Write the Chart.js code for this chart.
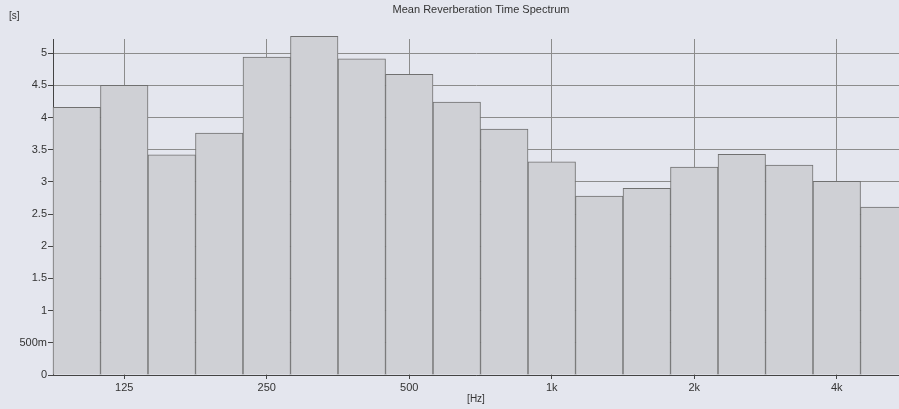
<!DOCTYPE html>
<html>
<head>
<meta charset="utf-8">
<script src="https://cdn.jsdelivr.net/npm/chart.js@4/dist/chart.umd.min.js"></script>
<style>
html,body{margin:0;padding:0;background:#e4e6ee;}
#wrap{width:899px;height:409px;position:relative;}
</style>
</head>
<body>
<div id="wrap"><canvas id="c" width="899" height="409"></canvas></div>
<script>
const bandLabels = ['100','125','160','200','250','315','400','500','630','800','1k','1.25k','1.6k','2k','2.5k','3.15k','4k','5k'];
const rt60 = [4.16, 4.50, 3.42, 3.76, 4.94, 5.26, 4.91, 4.67, 4.24, 3.82, 3.31, 2.78, 2.90, 3.23, 3.43, 3.26, 3.01, 2.61];
const xTickIndex = [1, 4, 7, 10, 13, 16];
const xTickLabels = ['125', '250', '500', '1k', '2k', '4k'];
const yTickValues = [0, 0.5, 1, 1.5, 2, 2.5, 3, 3.5, 4, 4.5, 5];
const yTickLabels = ['0', '500m', '1', '1.5', '2', '2.5', '3', '3.5', '4', '4.5', '5'];
const chartTitle = 'Mean Reverberation Time Spectrum';
const yUnit = '[s]';
const xUnit = '[Hz]';
const FONT = '"Liberation Sans", Arial, sans-serif';

const bgPlugin = {
  id: 'bg',
  beforeDraw(chart) {
    const ctx = chart.ctx;
    ctx.save();
    ctx.fillStyle = '#e4e6ee';
    ctx.fillRect(0, 0, chart.width, chart.height);
    ctx.restore();
  },
  afterDraw(chart) {
    const ctx = chart.ctx;
    ctx.save();
    ctx.fillStyle = '#333';
    ctx.font = '10px ' + FONT;
    ctx.textBaseline = 'middle';
    ctx.textAlign = 'left';
    ctx.fillText(yUnit, 9, 16);
    ctx.font = '11px ' + FONT;
    ctx.textAlign = 'center';
    ctx.fillText(chartTitle, 481, 10);
    ctx.restore();
  }
};

new Chart(document.getElementById('c'), {
  type: 'bar',
  data: {
    datasets: [{
      label: 'Mean Reverberation Time',
      data: rt60.map((v, i) => ({ x: i, y: v })),
      backgroundColor: '#cfd0d5',
      borderColor: '#707070',
      borderWidth: 1,
      barPercentage: 1,
      categoryPercentage: 1,
      clip: 5
    }]
  },
  plugins: [bgPlugin],
  options: {
    responsive: false,
    animation: false,
    layout: { padding: { left: 0, right: 0, top: 39, bottom: 0 } },
    plugins: {
      legend: { display: false },
      tooltip: { enabled: false },
      title: { display: false }
    },
    scales: {
      x: {
        type: 'linear',
        min: -0.5,
        max: 17.31,
        offset: false,
        afterBuildTicks(scale) { scale.ticks = xTickIndex.map(v => ({ value: v })); },
        afterFit(scale) { scale.height = 34; },
        ticks: {
          autoSkip: false,
          maxRotation: 0,
          color: '#333',
          font: { family: FONT, size: 11 },
          padding: 2,
          callback(v) { const k = xTickIndex.indexOf(v); return k >= 0 ? xTickLabels[k] : ''; }
        },
        grid: { offset: false, color: '#8c8c8c', lineWidth: 1, tickLength: 4, tickColor: '#444' },
        border: { display: true, color: '#444', width: 1 },
        title: {
          display: true,
          text: xUnit,
          color: '#333',
          font: { family: FONT, size: 10 },
          padding: { top: 0, bottom: 4 }
        }
      },
      y: {
        min: 0,
        max: 5.22,
        afterBuildTicks(scale) { scale.ticks = yTickValues.map(v => ({ value: v })); },
        afterFit(scale) { scale.width = 53; },
        ticks: {
          color: '#333',
          font: { family: FONT, size: 11 },
          padding: 1,
          callback(v) { const k = yTickValues.indexOf(v); return k >= 0 ? yTickLabels[k] : ''; }
        },
        grid: { color: '#8c8c8c', lineWidth: 1, tickLength: 5, tickColor: '#444' },
        border: { display: true, color: '#444', width: 1 }
      }
    }
  }
});
</script>
</body>
</html>
